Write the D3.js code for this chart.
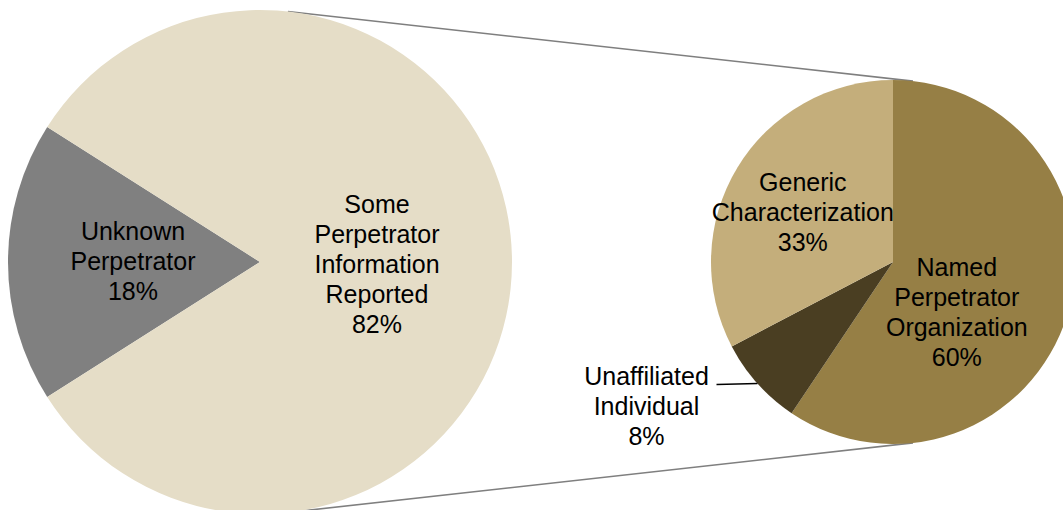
<!DOCTYPE html>
<html>
<head>
<meta charset="utf-8">
<script src="https://cdn.jsdelivr.net/npm/d3@7"></script>
<style>
  html, body { margin: 0; padding: 0; background: #fff; }
  svg { display: block; }
  text { font-family: "Liberation Sans", Arial, sans-serif; font-size: 25px; fill: #000; }
</style>
</head>
<body>
<div id="chart"></div>
<script>
// ---- Data ----
const mainCategories = ["Unknown Perpetrator", "Some Perpetrator Information Reported"];
const mainValues = [18, 82];
const mainLabelLines = [["Unknown", "Perpetrator", "18%"], ["Some", "Perpetrator", "Information", "Reported", "82%"]];
const mainColors = ["#808080", "#E5DDC7"];

const subCategories = ["Named Perpetrator Organization", "Unaffiliated Individual", "Generic Characterization"];
const subValues = [60, 8, 33];
const subLabelLines = [["Named", "Perpetrator", "Organization", "60%"], ["Unaffiliated", "Individual", "8%"], ["Generic", "Characterization", "33%"]];
const subColors = ["#967F45", "#4A3E22", "#C4AE7B"];

// ---- Layout ----
const W = 1063, H = 510;
const main = { cx: 260, cy: 262, r: 252 };
const sub = { cx: 893, cy: 262, r: 182 };
const lineH = 30, capHalf = 9;

const svg = d3.select("#chart").append("svg").attr("width", W).attr("height", H);

function polar(c, ang, dist) { // ang: radians, 0 at top, clockwise
  return [c.cx + dist * Math.sin(ang), c.cy - dist * Math.cos(ang)];
}

function multiLabel(g, lines, x, cy) {
  const t = g.append("text").attr("text-anchor", "middle");
  const first = cy - (lines.length - 1) * lineH / 2 + capHalf;
  lines.forEach((l, i) => t.append("tspan").attr("x", x).attr("y", first + i * lineH).text(l));
  return t;
}

// ---- Connector lines (tangent from big pie to top/bottom of small pie) ----
const endOffset = 6.3 * Math.PI / 180;
[endOffset, Math.PI - endOffset].forEach((a, idx) => {
  const P = polar(sub, a, sub.r);
  const dx = P[0] - main.cx, dy = P[1] - main.cy;
  const d = Math.hypot(dx, dy);
  const phi = Math.atan2(dy, dx);
  const th = Math.acos(main.r / d);
  const cands = [phi + th, phi - th].map(t => [main.cx + main.r * Math.cos(t), main.cy + main.r * Math.sin(t)]);
  const T = idx === 0 ? (cands[0][1] < cands[1][1] ? cands[0] : cands[1]) : (cands[0][1] > cands[1][1] ? cands[0] : cands[1]);
  svg.append("line").attr("x1", T[0]).attr("y1", T[1]).attr("x2", P[0]).attr("y2", P[1])
    .attr("stroke", "#7F7F7F").attr("stroke-width", 1.6);
});

// ---- Main pie ----
const mainSpan = 2 * Math.PI * mainValues[0] / d3.sum(mainValues);
const mainPie = d3.pie().sort(null).startAngle(-Math.PI / 2 - mainSpan / 2).endAngle(3 * Math.PI / 2 - mainSpan / 2);
const mainArcs = mainPie(mainValues);
const mainArc = d3.arc().innerRadius(0).outerRadius(main.r);
const gMain = svg.append("g").attr("transform", `translate(${main.cx},${main.cy})`);
gMain.selectAll("path").data(mainArcs).join("path")
  .attr("d", mainArc).attr("fill", (d, i) => mainColors[i]);

const mainLabelDist = [127 / main.r, 117 / main.r];
mainArcs.forEach((d, i) => {
  const mid = (d.startAngle + d.endAngle) / 2;
  const [x, y] = polar(main, mid, mainLabelDist[i] * main.r);
  multiLabel(svg, mainLabelLines[i], x, y + (i === 1 ? 2 : -1));
});

// ---- Sub pie ----
const subPie = d3.pie().sort(null).startAngle(0).endAngle(2 * Math.PI);
const subArcs = subPie(subValues);
const subArc = d3.arc().innerRadius(0).outerRadius(sub.r);
const gSub = svg.append("g").attr("transform", `translate(${sub.cx},${sub.cy})`);
gSub.selectAll("path").data(subArcs).join("path")
  .attr("d", subArc).attr("fill", (d, i) => subColors[i]);

// Named Perpetrator Organization label (inside)
{
  const [x, y] = polar(sub, 128 * Math.PI / 180, 0.445 * sub.r);
  multiLabel(svg, subLabelLines[0], x, y);
}
// Generic Characterization label (inside, at centroid-like position)
{
  const d = subArcs[2];
  const mid = (d.startAngle + d.endAngle) / 2;
  const [x, y] = polar(sub, mid, 0.56 * sub.r);
  multiLabel(svg, subLabelLines[2], x - 3, y + 3);
}
// Unaffiliated Individual label (outside with leader)
{
  const d = subArcs[1];
  const mid = (d.startAngle + d.endAngle) / 2;
  const A = polar(sub, mid, sub.r);
  const labelX = A[0] - 111, labelCy = A[1] + 22;
  svg.append("line").attr("x1", A[0]).attr("y1", A[1]).attr("x2", A[0] - 41).attr("y2", A[1] + 1)
    .attr("stroke", "#000").attr("stroke-width", 1.5);
  multiLabel(svg, subLabelLines[1], labelX, labelCy);
}
</script>
</body>
</html>
